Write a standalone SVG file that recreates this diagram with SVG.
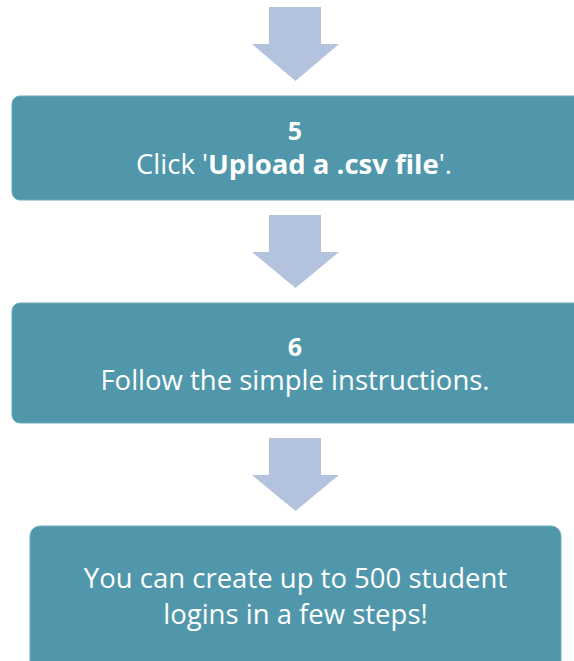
<svg xmlns="http://www.w3.org/2000/svg" width="574" height="661" viewBox="0 0 574 661">
<style>
.box{fill:#5097ab;stroke:#6fabbc;stroke-width:1}
.arrow{fill:#b3c2dd}
text{font-family:"Open Sans","Noto Sans",sans-serif;fill:#ffffff;text-anchor:middle}
.num{font-size:25px;font-weight:bold}
.txt{font-size:27.5px}
.b{font-weight:bold}
</style>
<rect width="574" height="661" fill="#ffffff"/>
<g id="connectors">
<polygon class="arrow" points="269,7 321,7 321,44 339,44 295.5,81 252,44 269,44"/>
<polygon class="arrow" points="269,215 321,215 321,252 339,252 295.5,288 252,252 269,252"/>
<polygon class="arrow" points="269,438 321,438 321,475 339,475 295.5,511 252,475 269,475"/>
</g>
<g id="step5">
<rect class="box" x="12" y="96" width="572" height="104" rx="8"/>
<text class="num" x="295" y="140">5</text>
<text class="txt" x="294" y="174">Click '<tspan class="b">Upload a .csv file</tspan>'.</text>
</g>
<g id="step6">
<rect class="box" x="12" y="303" width="572" height="120" rx="8"/>
<text class="num" x="295" y="356">6</text>
<text class="txt" x="295" y="389.5">Follow the simple instructions.</text>
</g>
<g id="result">
<rect class="box" x="30" y="526" width="531" height="145" rx="10"/>
<text class="txt" x="295.5" y="588">You can create up to 500 student</text>
<text class="txt" x="295.5" y="623.5">logins in a few steps!</text>
</g>
</svg>
